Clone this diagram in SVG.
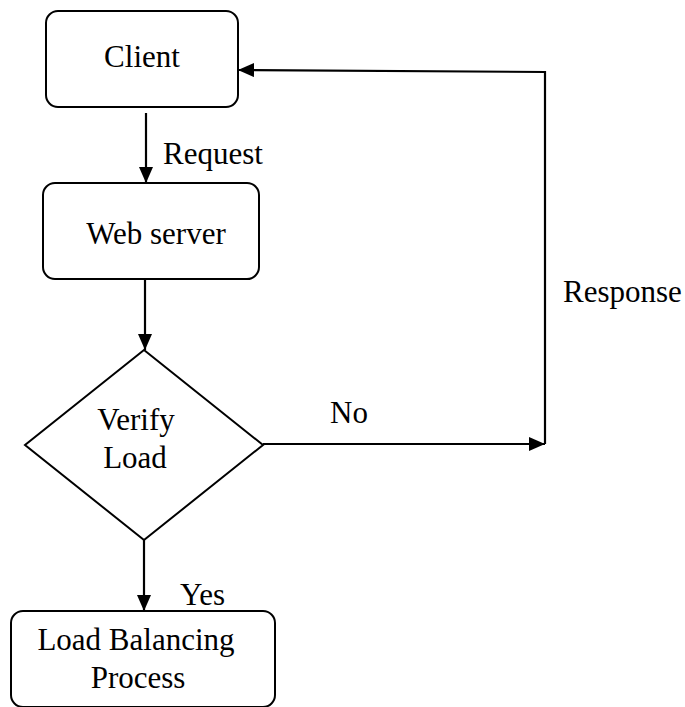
<svg xmlns="http://www.w3.org/2000/svg" width="685" height="707" viewBox="0 0 685 707">
  <style>
    .box { fill: #fff; stroke: #000; stroke-width: 2; }
    .line { fill: none; stroke: #000; stroke-width: 2.2; }
    .lbl { font-family: "Liberation Serif", "Times New Roman", serif; font-size: 31px; fill: #000; }
  </style>
  <defs>
    <marker id="arrow" markerUnits="userSpaceOnUse" markerWidth="16" markerHeight="14" viewBox="0 0 16 14" refX="16" refY="7" orient="auto">
      <path d="M0,0 L16,7 L0,14 Z" fill="#000"/>
    </marker>
  </defs>
  <rect width="685" height="707" fill="#fff"/>

  <g id="client">
    <rect class="box" x="46" y="11" width="192" height="96" rx="12"/>
    <text class="lbl" x="142" y="67" text-anchor="middle">Client</text>
  </g>

  <g id="web-server">
    <rect class="box" x="43" y="183" width="216" height="96" rx="12"/>
    <text class="lbl" x="156" y="244" text-anchor="middle">Web server</text>
  </g>

  <g id="verify-load">
    <polygon class="box" points="144,350 263,445 144,540 25,445"/>
    <text class="lbl" x="136" y="430" text-anchor="middle">Verify</text>
    <text class="lbl" x="135" y="468" text-anchor="middle">Load</text>
  </g>

  <g id="load-balancing">
    <rect class="box" x="11" y="611" width="264" height="96" rx="12"/>
    <text class="lbl" x="136" y="650" text-anchor="middle">Load Balancing</text>
    <text class="lbl" x="138" y="688" text-anchor="middle">Process</text>
  </g>

  <g id="connectors">
    <line class="line" x1="146" y1="113" x2="146" y2="183" marker-end="url(#arrow)"/>
    <line class="line" x1="145" y1="279" x2="145" y2="350" marker-end="url(#arrow)"/>
    <line class="line" x1="263" y1="444" x2="545" y2="444" marker-end="url(#arrow)"/>
    <polyline class="line" points="545,444 545,72 238,70" marker-end="url(#arrow)"/>
    <line class="line" x1="144" y1="540" x2="144" y2="611" marker-end="url(#arrow)"/>
    <text class="lbl" x="163" y="164">Request</text>
    <text class="lbl" x="330" y="423">No</text>
    <text class="lbl" x="563" y="302">Response</text>
    <text class="lbl" x="180" y="605">Yes</text>
  </g>
</svg>
